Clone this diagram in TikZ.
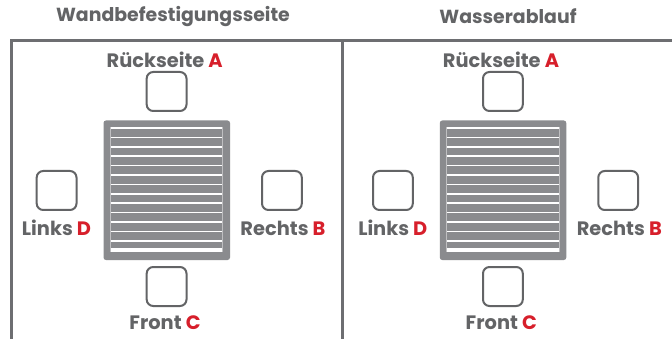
\documentclass[tikz,border=0pt]{standalone}
\usepackage{fontspec}
\setmainfont{Poppins}[BoldFont={Poppins Bold}]
\definecolor{txt}{HTML}{636466}
\definecolor{redl}{HTML}{D71F2B}
\definecolor{grill}{HTML}{8A8B8E}
\definecolor{framec}{HTML}{6D6E71}
\definecolor{boxc}{HTML}{636466}
\tikzset{
  lab/.style={font=\bfseries\fontsize{19.4}{22}\selectfont, text=txt, inner sep=0pt, anchor=center},
  ttl/.style={font=\bfseries\fontsize{18.9}{22}\selectfont, text=txt, inner sep=0pt, anchor=center},
  seat/.style={draw=boxc, line width=2pt, rounded corners=6.5pt, fill=white},
  frameline/.style={draw=framec, line width=2.6pt},
  slat/.style={draw=white, line width=1.5pt},
  side/.style={draw=white!45!grill, line width=.7pt},
  panel/.pic={
    \fill[grill, rounded corners=2.5pt] (103.5,120.5) rectangle (230,260);
    \fill[grill] (110.5,126) rectangle (223,252);
    \foreach \i in {0,...,13} {\draw[slat] (110.5,128+9.4*\i) -- (223,128+9.4*\i);}
    \fill[white] (110.5,248.5) rectangle (223,252);
    \draw[side] (110.5,127.5) -- (110.5,252);
    \draw[side] (222.7,127.5) -- (222.7,252);
    \draw[seat] (146.7,72) rectangle (186.5,111);
    \draw[seat] (146.7,267) rectangle (186.5,306);
    \draw[seat] (36.7,171) rectangle (76.5,210);
    \draw[seat] (262,171) rectangle (301.8,210);
    \node[lab] (-a) at (164.7,60) {Rückseite \textcolor{redl}{A}};
    \node[lab] (-d) at (56.5,228) {Links \textcolor{redl}{D}};
    \node[lab] (-b) at (283,228) {Rechts \textcolor{redl}{B}};
    \node[lab] (-c) at (165,322.5) {Front \textcolor{redl}{C}};
  }
}
\begin{document}
\begin{tikzpicture}[x=1pt,y=-1pt]
\useasboundingbox (0,0) rectangle (672,339);
\fill[white] (0,0) rectangle (672,339);
\draw[frameline] (11.5,339) -- (11.5,40.7) -- (672,40.7);
\draw[frameline] (342.5,40.7) -- (342.5,339);
\pic (left) at (0,0) {panel};
\pic (right) at (336.3,0) {panel};
\node[ttl] (t1) at (173,16.3) {Wandbefestigungsseite};
\node[ttl] (t2) at (508,16.3) {Wasserablauf};
\end{tikzpicture}
\end{document}
